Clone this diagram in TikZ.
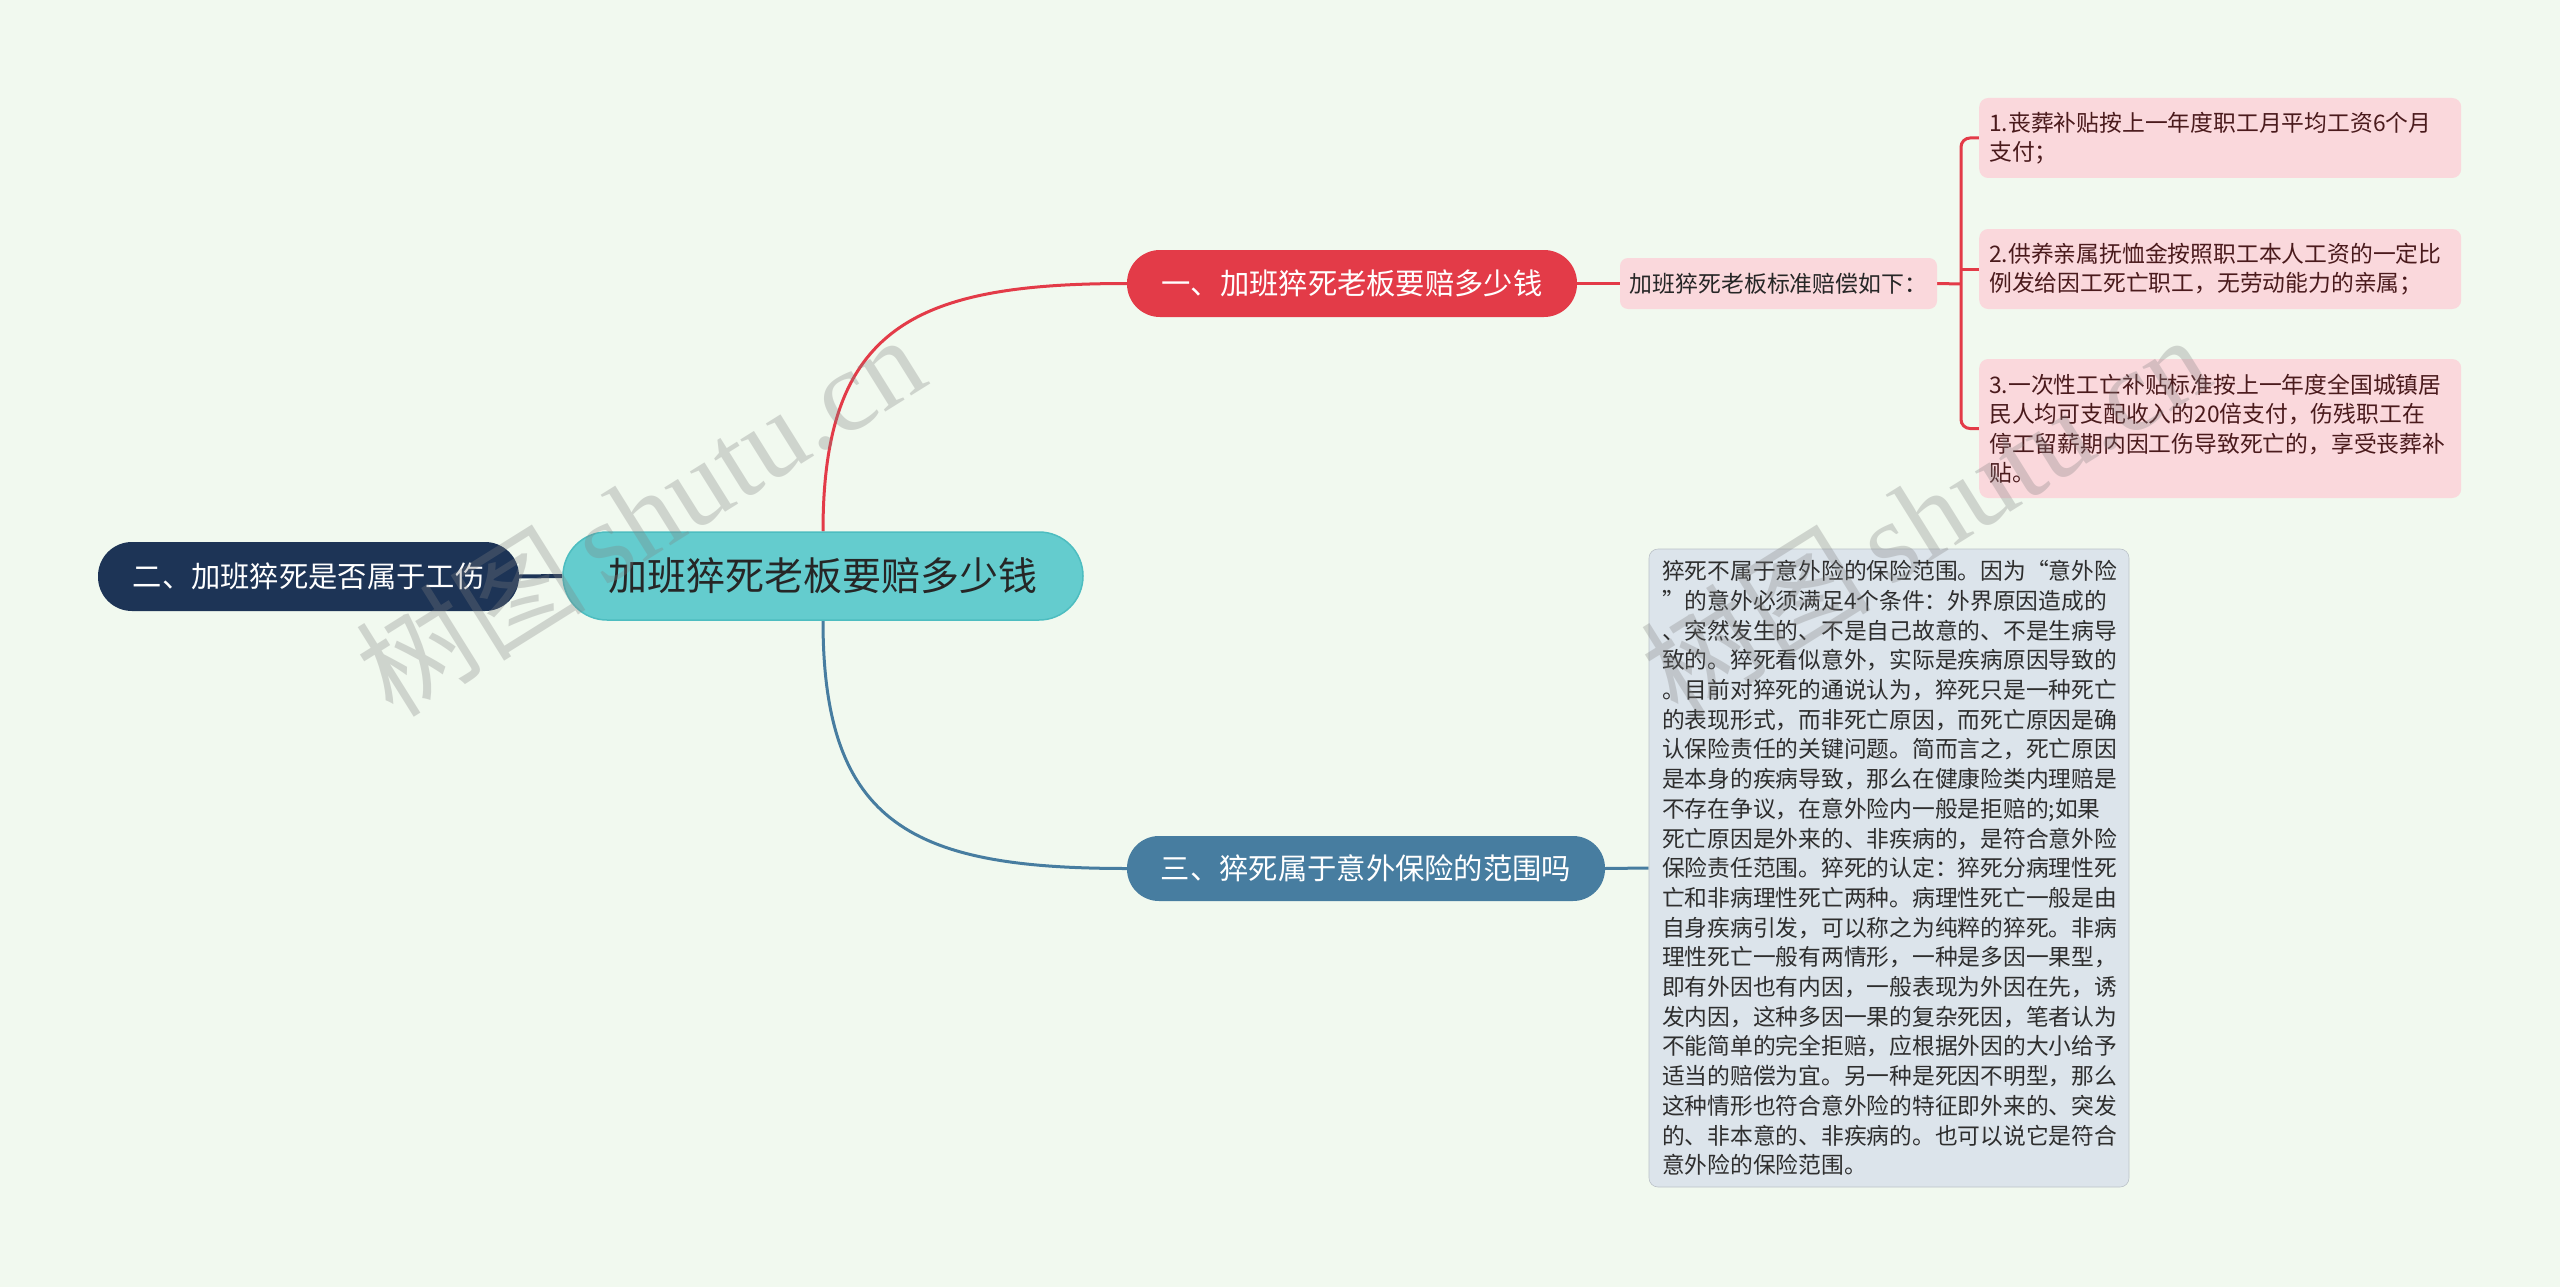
\documentclass[tikz,border=0pt]{standalone}
\usepackage{fontspec}
\newfontfamily\cjk{Noto Sans CJK SC}
\newfontfamily\wmserif{Liberation Serif}
\definecolor{bg}{HTML}{F1F9EF}
\definecolor{teal}{HTML}{64CCCE}
\definecolor{tealdk}{HTML}{4DBDC0}
\definecolor{navy}{HTML}{1D3456}
\definecolor{redn}{HTML}{E33B48}
\definecolor{pinkn}{HTML}{FAD8DC}
\definecolor{bluen}{HTML}{477DA0}
\definecolor{boxgray}{HTML}{DCE4EB}
\definecolor{maroon}{HTML}{4A1A1C}
\definecolor{txtgray}{HTML}{2E2E2E}
\pgfdeclarelayer{background}
\pgfdeclarelayer{foreground}
\pgfsetlayers{background,main,foreground}
\tikzset{
  pill/.style={rounded corners=#1, inner sep=0pt, align=center},
  centralnode/.style={pill=44, fill=teal, draw=tealdk, line width=1.5pt, minimum width=520, minimum height=88,
     text=black!85, font=\cjk\fontsize{39}{44}\selectfont},
  mainnode/.style={pill=33, minimum height=66, text=white, font=\cjk\fontsize{29.3}{34}\selectfont},
  leafnode/.style={rounded corners=9, fill=pinkn, inner xsep=10pt, inner ysep=0pt, align=left,
     text=maroon, font=\cjk\fontsize{22.8}{29.5}\selectfont, text width=462, anchor=west},
  redline/.style={draw=redn, line width=3pt},
  blueline/.style={draw=bluen, line width=3pt},
  watermark/.style={text=gray, opacity=0.3, rotate=32, font=\fontsize{115}{120}\selectfont}
}
\begin{document}
\begin{tikzpicture}[x=1pt,y=-1pt]
\useasboundingbox (0,0) rectangle (2560,1287);
\begin{pgfonlayer}{background}
\fill[bg] (0,0) rectangle (2560,1287);
\end{pgfonlayer}

% nodes
\node[centralnode] (c) at (823,576) {加班猝死老板要赔多少钱};
\node[mainnode, fill=navy, minimum width=421, minimum height=69, pill=34] (l) at (308.5,576.5) {二、加班猝死是否属于工伤};
\node[mainnode, fill=redn, minimum width=450, minimum height=67] (r) at (1352,283.5) {一、加班猝死老板要赔多少钱};
\node[mainnode, fill=bluen, minimum width=478, minimum height=65, pill=32] (b) at (1366,868.5) {三、猝死属于意外保险的范围吗};
\node[rounded corners=8, fill=pinkn, minimum width=317, minimum height=51, inner sep=0pt, text=black!85,
      font=\cjk\fontsize{22.9}{28}\selectfont] (m) at (1778.5,283.5) {加班猝死老板标准赔偿如下：};

\node[leafnode, minimum height=80] (f1) at (1979,138) {1.丧葬补贴按上一年度职工月平均工资6个月\\支付；};
\node[leafnode, minimum height=80] (f2) at (1979,269) {2.供养亲属抚恤金按照职工本人工资的一定比\\例发给因工死亡职工，无劳动能力的亲属；};
\node[leafnode, minimum height=139] (f3) at (1979,428.5) {3.一次性工亡补贴标准按上一年度全国城镇居\\民人均可支配收入的20倍支付，伤残职工在\\停工留薪期内因工伤导致死亡的，享受丧葬补\\贴。};

\node[rounded corners=9, fill=boxgray, draw=boxgray!85!black, line width=0.6pt, minimum width=480, minimum height=638,
      inner xsep=13pt, inner ysep=0pt, text width=454, align=left, text=txtgray,
      font=\cjk\fontsize{22.75}{29.7}\selectfont] (t) at (1889,868) {猝死不属于意外险的保险范围。因为“意外险\\”的意外必须满足4个条件：外界原因造成的\\、突然发生的、不是自己故意的、不是生病导\\致的。猝死看似意外，实际是疾病原因导致的\\。目前对猝死的通说认为，猝死只是一种死亡\\的表现形式，而非死亡原因，而死亡原因是确\\认保险责任的关键问题。简而言之，死亡原因\\是本身的疾病导致，那么在健康险类内理赔是\\不存在争议，在意外险内一般是拒赔的;如果\\死亡原因是外来的、非疾病的，是符合意外险\\保险责任范围。猝死的认定：猝死分病理性死\\亡和非病理性死亡两种。病理性死亡一般是由\\自身疾病引发，可以称之为纯粹的猝死。非病\\理性死亡一般有两情形，一种是多因一果型，\\即有外因也有内因，一般表现为外因在先，诱\\发内因，这种多因一果的复杂死因，笔者认为\\不能简单的完全拒赔，应根据外因的大小给予\\适当的赔偿为宜。另一种是死因不明型，那么\\这种情形也符合意外险的特征即外来的、突发\\的、非本意的、非疾病的。也可以说它是符合\\意外险的保险范围。};

% connectors (behind the nodes)
\coordinate (jt) at (1961,284);
\begin{pgfonlayer}{background}
\draw[navy, line width=4pt] (c.west) -- (l.east);
\draw[redline] (c.north) .. controls (823,327) and (914,283.5) .. (r.west);
\draw[blueline] (c.south) .. controls (823,826) and (914,868.5) .. (b.west);
\draw[redline] (r.east) -- (m.west);
\draw[redline] (m.east) -- (jt);
\draw[redline, rounded corners=9] (f1.west) -- (f1.west -| jt) |- (f3.west);
\draw[redline] (f2.west) -- (f2.west -| jt);
\draw[blueline] (b.east) -- (t.west);
\end{pgfonlayer}

% watermarks
\begin{pgfonlayer}{foreground}
\node[watermark] (w1) at (640,514) {\cjk 树图\,\wmserif shutu.cn};
\node[watermark] (w2) at (1925,514) {\cjk 树图\,\wmserif shutu.cn};
\end{pgfonlayer}
\end{tikzpicture}
\end{document}
